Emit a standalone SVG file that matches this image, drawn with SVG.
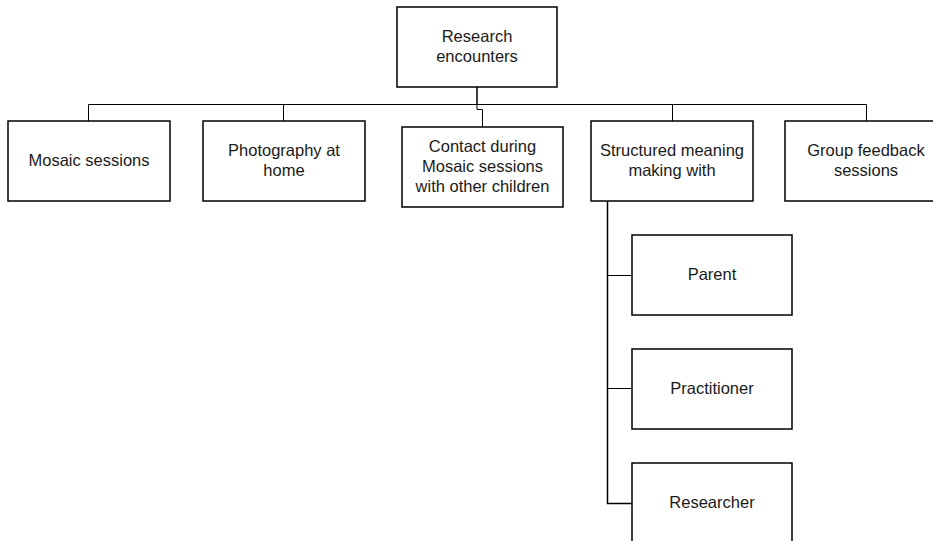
<svg xmlns="http://www.w3.org/2000/svg" width="933" height="541" viewBox="0 0 933 541">
  <style>
    .box { fill: #ffffff; stroke: #000000; stroke-width: 1.5; }
    .lbl { font-family: "Liberation Sans", Arial, sans-serif; font-size: 16.5px; fill: #1a1a1a; text-anchor: middle; }
    .wire { fill: none; stroke: #000000; stroke-width: 1; }
  </style>
  <rect width="933" height="541" fill="#ffffff"/>

  <!-- connectors -->
  <g id="connectors">
    <path class="wire" d="M477 87 V104" style="stroke-width:1.5"/>
    <path class="wire" d="M88.5 121 V104.5 H866.5 V121"/>
    <path class="wire" d="M283.5 121 V104.5"/>
    <path class="wire" d="M477 104.5 V109.5 H482.5 V127"/>
    <path class="wire" d="M672.5 121 V104.5"/>
    <path class="wire" d="M607.5 201 V503.5 H632" style="stroke-width:1.5"/>
    <path class="wire" d="M607.5 275.5 H632"/>
    <path class="wire" d="M607.5 388.5 H632"/>
  </g>

  <!-- root -->
  <g id="research-encounters">
    <rect class="box" x="397" y="7" width="160" height="80"/>
    <text class="lbl" x="477" y="42">Research</text>
    <text class="lbl" x="477" y="62">encounters</text>
  </g>

  <g id="mosaic-sessions">
    <rect class="box" x="8" y="121" width="162" height="80"/>
    <text class="lbl" x="89" y="166">Mosaic sessions</text>
  </g>

  <g id="photography-at-home">
    <rect class="box" x="203" y="121" width="162" height="80"/>
    <text class="lbl" x="284" y="156">Photography at</text>
    <text class="lbl" x="284" y="176">home</text>
  </g>

  <g id="contact-during-sessions">
    <rect class="box" x="402" y="127" width="161" height="80"/>
    <text class="lbl" x="482.5" y="152">Contact during</text>
    <text class="lbl" x="482.5" y="172">Mosaic sessions</text>
    <text class="lbl" x="482.5" y="192">with other children</text>
  </g>

  <g id="structured-meaning-making">
    <rect class="box" x="591" y="121" width="162" height="80"/>
    <text class="lbl" x="672" y="156">Structured meaning</text>
    <text class="lbl" x="672" y="176">making with</text>
  </g>

  <g id="group-feedback-sessions">
    <rect class="box" x="785" y="121" width="162" height="80"/>
    <text class="lbl" x="866" y="156">Group feedback</text>
    <text class="lbl" x="866" y="176">sessions</text>
  </g>

  <g id="parent">
    <rect class="box" x="632" y="235" width="160" height="80"/>
    <text class="lbl" x="712" y="280">Parent</text>
  </g>

  <g id="practitioner">
    <rect class="box" x="632" y="349" width="160" height="80"/>
    <text class="lbl" x="712" y="394">Practitioner</text>
  </g>

  <g id="researcher">
    <rect class="box" x="632" y="463" width="160" height="80"/>
    <text class="lbl" x="712" y="508">Researcher</text>
  </g>
</svg>
